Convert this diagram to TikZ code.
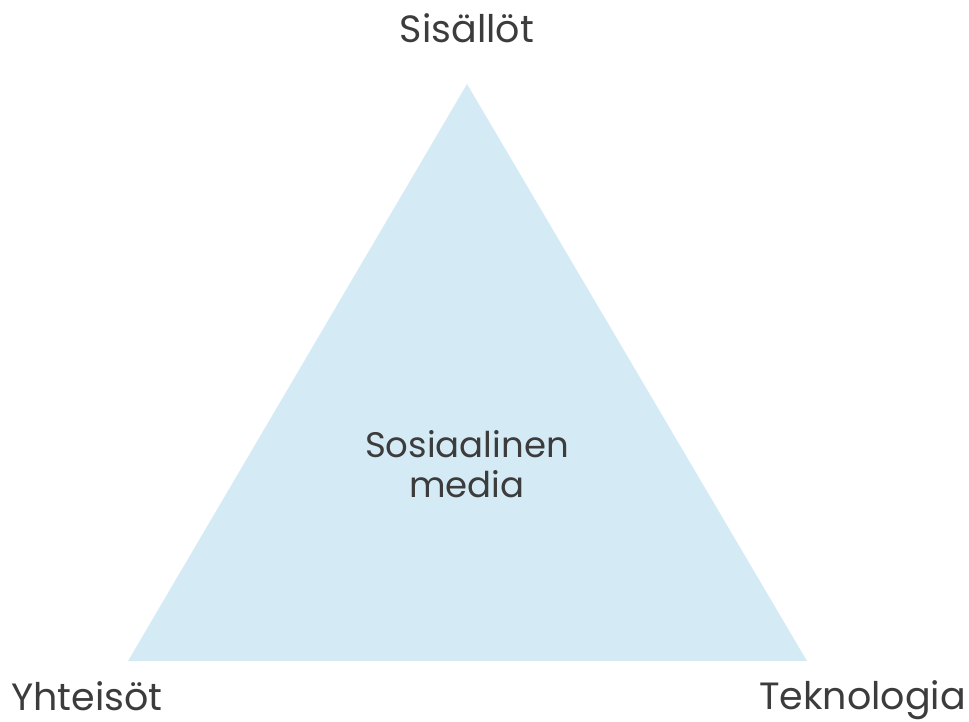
\documentclass[tikz,border=0pt]{standalone}
\usepackage{fontspec}
\setmainfont{Poppins}
\definecolor{tri}{HTML}{D4EBF6}
\definecolor{txt}{HTML}{3C3C3C}
\begin{document}
\begin{tikzpicture}[x=1pt,y=-1pt,
  lbl/.style={text=txt,font=\fontsize{38}{44}\selectfont,inner sep=0pt,anchor=base},
  mid/.style={lbl,font=\fontsize{35.5}{42}\selectfont}]
\useasboundingbox (0,0) rectangle (969,722);
\coordinate (top) at (467,84);
\coordinate (bl) at (128,661);
\coordinate (br) at (807,661);
\fill[tri] (top) -- (bl) -- (br) -- cycle;
\node[lbl] (s) at (467,43) {Sisällöt};
\node[lbl,anchor=base west,text depth=0pt] (y) at (11,710) {Yhteisöt};
\node[lbl,anchor=base east] (t) at (966,709) {Teknologia};
\node[mid] (c1) at (467,457) {Sosiaalinen};
\node[mid] (c2) at (467,497) {media};
\end{tikzpicture}
\end{document}
